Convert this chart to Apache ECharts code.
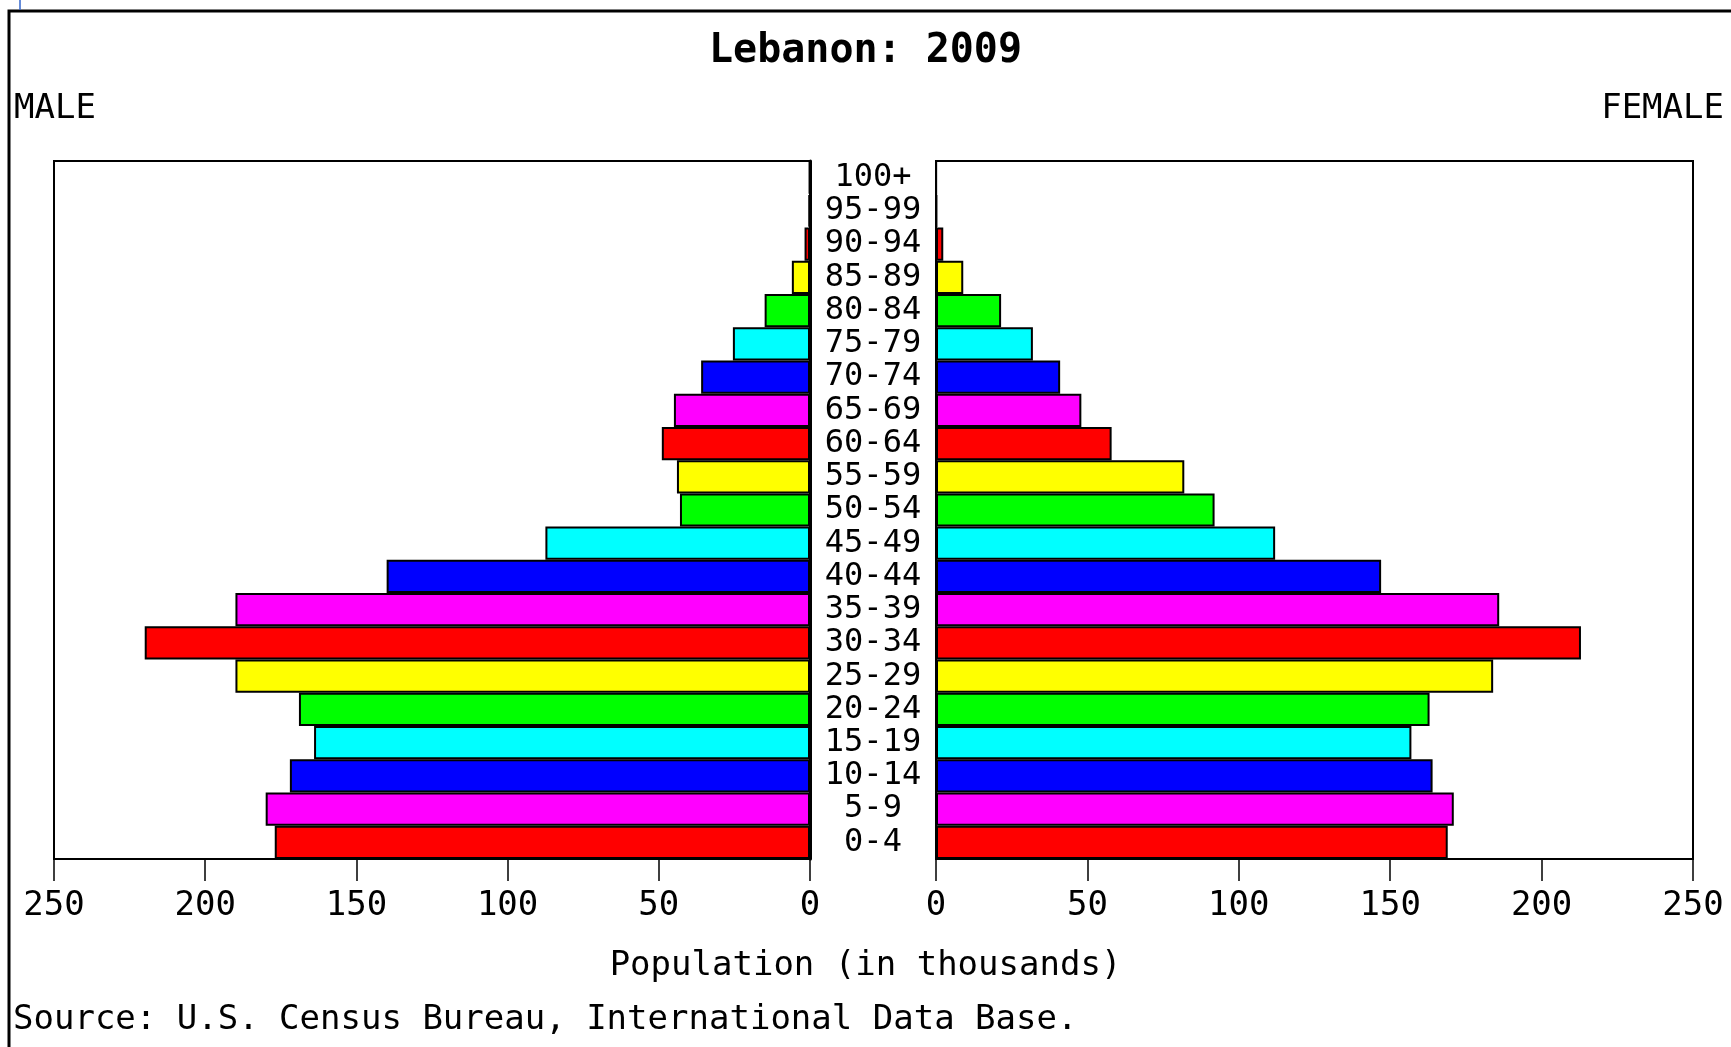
<!DOCTYPE html>
<html>
<head>
<meta charset="utf-8">
<title>Lebanon: 2009</title>
<script src="https://cdn.jsdelivr.net/npm/echarts@6/dist/echarts.min.js"></script>
<style>
  html, body { margin: 0; padding: 0; background: #fff; }
  #chart { width: 1731px; height: 1047px; }
</style>
</head>
<body>
<div id="chart"></div>
<script>
// age groups, bottom to top
const ageGroups = ['0-4', '5-9', '10-14', '15-19', '20-24', '25-29', '30-34', '35-39',
  '40-44', '45-49', '50-54', '55-59', '60-64', '65-69', '70-74', '75-79', '80-84',
  '85-89', '90-94', '95-99', '100+'];

// population in thousands
const maleValues = [177, 180, 172, 164, 169, 190, 220, 190, 140, 87.5, 43, 44, 49,
  45, 36, 25.5, 15, 6, 1.8, 0.5, 0.3];
const femaleValues = [169, 171, 164, 157, 163, 184, 213, 186, 147, 112, 92, 82, 58,
  48, 41, 32, 21.5, 9, 2.4, 0.3, 0.1];

const axisMax = 250;
const tickStep = 50;
const barColors = ['#ff0000', '#ff00ff', '#0000ff', '#00ffff', '#00ff00', '#ffff00'];

const monoFont = '"DejaVu Sans Mono", "Liberation Mono", monospace';

const chart = echarts.init(document.getElementById('chart'));

function barData(values) {
  return values.map((v, i) => ({
    value: v,
    itemStyle: { color: barColors[i % barColors.length] }
  }));
}

const xAxisCommon = {
  type: 'value',
  min: 0,
  max: axisMax,
  interval: tickStep,
  axisLine: { show: true, lineStyle: { color: '#000', width: 2 } },
  axisTick: { show: true, length: 22, lineStyle: { color: '#000', width: 1.5 } },
  splitLine: { show: false },
  axisLabel: {
    color: '#000',
    fontFamily: monoFont,
    fontSize: 34,
    margin: 47,
    verticalAlign: 'middle',
    showMinLabel: true,
    showMaxLabel: true
  }
};

const option = {
  backgroundColor: '#fff',
  animation: false,
  title: {
    text: 'Lebanon: 2009',
    left: 'center',
    top: 27,
    textStyle: { fontFamily: monoFont, fontSize: 40, fontWeight: 'bold', color: '#000' }
  },
  grid: [
    { left: 54, top: 161, width: 756, height: 698, show: true, borderColor: '#000', borderWidth: 2 },
    { left: 936, top: 161, width: 757, height: 698, show: true, borderColor: '#000', borderWidth: 2 }
  ],
  xAxis: [
    Object.assign({}, xAxisCommon, { gridIndex: 0, inverse: true }),
    Object.assign({}, xAxisCommon, { gridIndex: 1 })
  ],
  yAxis: [
    {
      type: 'category',
      gridIndex: 0,
      position: 'right',
      data: ageGroups,
      axisLine: { show: true, lineStyle: { color: '#000', width: 3 } },
      axisTick: { show: false },
      axisLabel: {
        show: true,
        interval: 0,
        margin: 63,
        align: 'center',
        color: '#000',
        fontFamily: monoFont,
        fontSize: 32
      }
    },
    {
      type: 'category',
      gridIndex: 1,
      position: 'left',
      data: ageGroups,
      axisLine: { show: true, lineStyle: { color: '#000', width: 2 } },
      axisTick: { show: false },
      axisLabel: { show: false }
    }
  ],
  series: [
    {
      name: 'Male',
      type: 'bar',
      xAxisIndex: 0,
      yAxisIndex: 0,
      barCategoryGap: '0%',
      itemStyle: { borderColor: '#000', borderWidth: 2 },
      data: barData(maleValues)
    },
    {
      name: 'Female',
      type: 'bar',
      xAxisIndex: 1,
      yAxisIndex: 1,
      barCategoryGap: '0%',
      itemStyle: { borderColor: '#000', borderWidth: 2 },
      data: barData(femaleValues)
    }
  ],
  graphic: [
    // outer frame
    { type: 'rect', shape: { x: 9, y: 11, width: 1800, height: 1100 },
      style: { fill: 'none', stroke: '#000', lineWidth: 3 }, silent: true },
    { type: 'line', shape: { x1: 20, y1: 0, x2: 20, y2: 10 },
      style: { stroke: '#3366cc', lineWidth: 1.5 }, silent: true },
    { type: 'text', left: 14, top: 92,
      style: { text: 'MALE', fontFamily: monoFont, fontSize: 34, fill: '#000' } },
    { type: 'text', right: 7, top: 92,
      style: { text: 'FEMALE', fontFamily: monoFont, fontSize: 34, fill: '#000' } },
    { type: 'text', left: 'center', top: 949,
      style: { text: 'Population (in thousands)', fontFamily: monoFont, fontSize: 34, fill: '#000' } },
    { type: 'text', left: 13, top: 1003,
      style: { text: 'Source: U.S. Census Bureau, International Data Base.', fontFamily: monoFont, fontSize: 34, fill: '#000' } }
  ]
};

chart.setOption(option);
</script>
</body>
</html>
